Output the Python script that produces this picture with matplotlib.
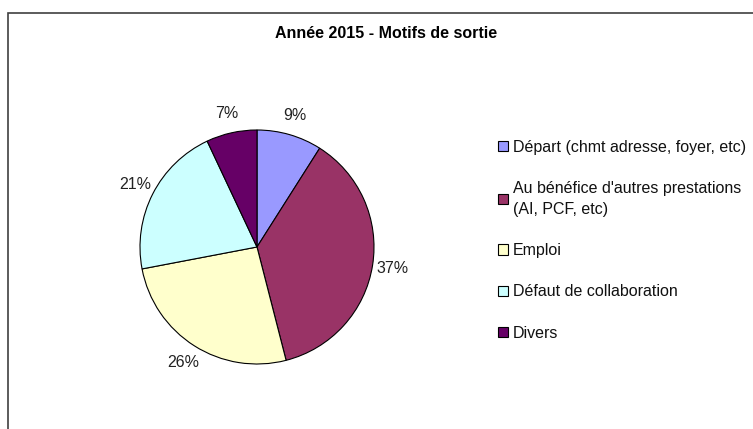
import matplotlib.pyplot as plt
from matplotlib.patches import Rectangle

plt.rcParams['font.family'] = ['Liberation Sans', 'DejaVu Sans']

# data
categories = ["Départ (chmt adresse, foyer, etc)",
              "Au bénéfice d'autres prestations\n(AI, PCF, etc)",
              "Emploi",
              "Défaut de collaboration",
              "Divers"]
values = [9, 37, 26, 21, 7]
colors = ['#9999FF', '#993366', '#FFFFCC', '#CCFFFF', '#660066']

fig = plt.figure(figsize=(7.53, 4.29), dpi=100)

# chart frame (runs off the right and bottom edges)
fig.patches.append(Rectangle((8 / 753, -0.05), 1.0, 1 - 13 / 429 + 0.05,
                             transform=fig.transFigure, fill=False,
                             edgecolor='#404040', linewidth=1.2))

ax = fig.add_axes([(257 - 117) / 753, 1 - (247 + 117) / 429, 234 / 753, 234 / 429])
wedges, texts = ax.pie(values, colors=colors, startangle=90, counterclock=False,
                       labels=[f"{v}%" for v in values], labeldistance=1.17,
                       wedgeprops=dict(edgecolor='black', linewidth=0.8),
                       textprops=dict(fontsize=11.5, color='#222222'))
for t in texts:
    t.set_horizontalalignment('center')
    t.set_verticalalignment('center')
ax.set_xlim(-1, 1)
ax.set_ylim(-1, 1)
ax.set_aspect('equal')

fig.text(386 / 753, 1 - 34 / 429, "Année 2015 - Motifs de sortie",
         ha='center', va='center', fontsize=11.5, fontweight='bold')

leg = fig.legend(wedges, categories, loc='upper left',
                 bbox_to_anchor=(498 / 753, 1 - 140 / 429),
                 frameon=False, fontsize=11.5, handlelength=0.6, handleheight=0.6,
                 handletextpad=0.35, labelspacing=1.65, borderaxespad=0,
                 borderpad=0)
for t in leg.get_texts():
    t.set_linespacing(1.45)
    t.set_color('#111111')
for h in leg.legend_handles:
    h.set_edgecolor('black')
    h.set_linewidth(0.8)

fig.savefig('out.png', dpi=100)
